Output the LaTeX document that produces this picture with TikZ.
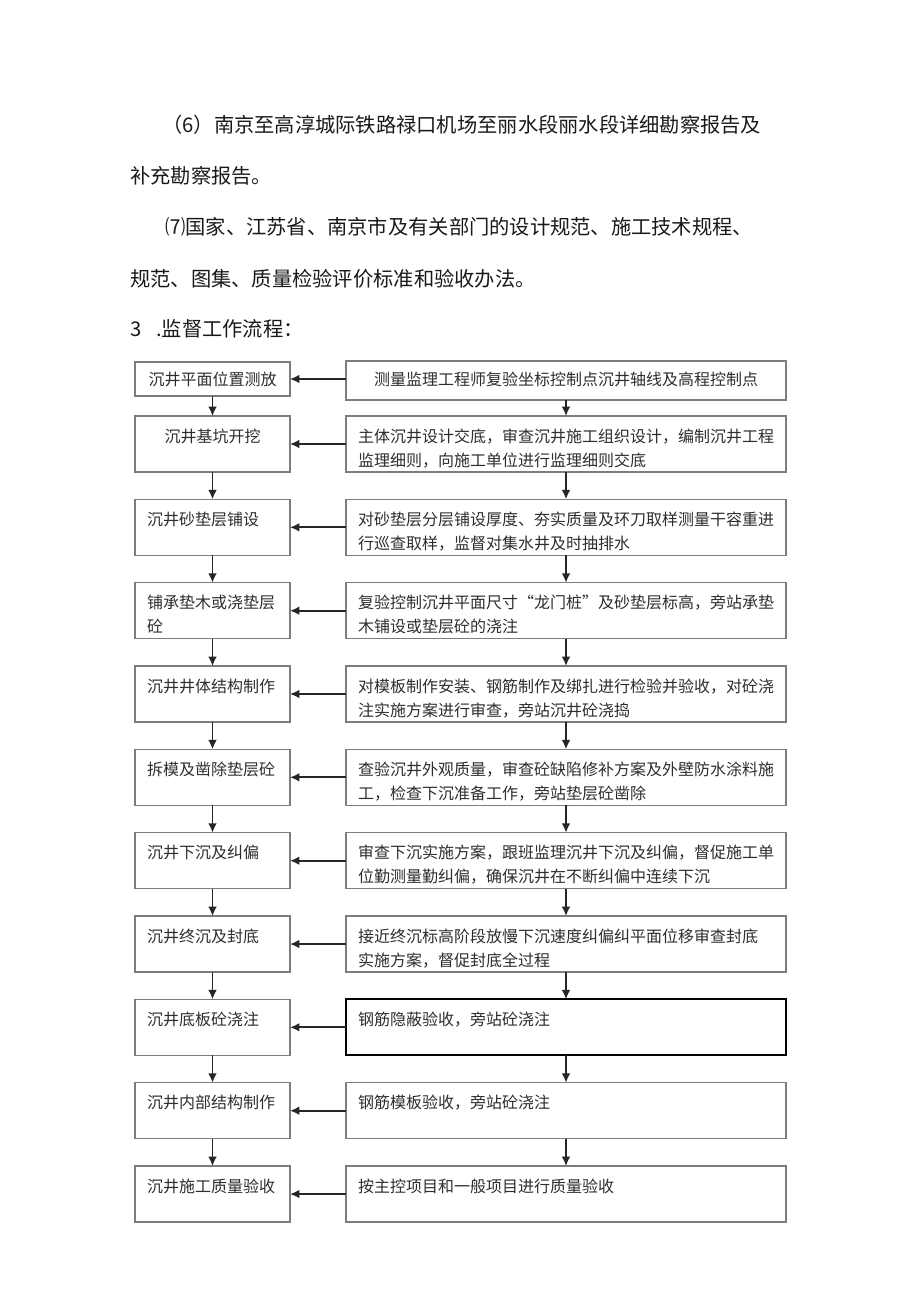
\documentclass[tikz,border=0pt]{standalone}
\usepackage{fontspec}
\setmainfont{Noto Sans CJK SC}
\usetikzlibrary{arrows.meta}
\setlength{\parindent}{0pt}
\definecolor{boxgray}{RGB}{125,125,125}
\definecolor{inkgray}{RGB}{45,45,45}
\tikzstyle{para} = [anchor=base west, inner sep=0, font=\fontsize{15.2}{18}\selectfont, text=black!90]
\tikzstyle{leftbox} = [draw=boxgray, line width=0.9pt, anchor=north west, outer sep=0, inner xsep=9pt, inner ysep=0,
                       text width=98.25pt, align=left, text height=19.5pt, text depth=22.5pt,
                       font=\fontsize{12}{18}\selectfont, text=inkgray]
\tikzstyle{rightbox} = [leftbox, text width=312pt]
\tikzstyle{flow} = [draw=black!85, line width=1.3pt, -{Latex[length=7pt,width=6.5pt]}]

\begin{document}
\begin{tikzpicture}[x=0.75pt, y=-0.75pt]
\useasboundingbox (0, 0) rectangle (920, 1301);

% lines of text above the chart
\node (ItemSix) [para] at (162, 133) {（6）南京至高淳城际铁路禄口机场至丽水段丽水段详细勘察报告及};
\node (ItemSixEnd) [para] at (130, 184) {补充勘察报告。};
\node (ItemSeven) [para] at (165, 235) {⑺国家、江苏省、南京市及有关部门的设计规范、施工技术规程、};
\node (ItemSevenEnd) [para] at (130, 287) {规范、图集、质量检验评价标准和验收办法。};
\node (Heading) [para] at (130, 337) {3\hspace{0.5em} .监督工作流程：};

% work steps
\node (Setout) [leftbox, align=center, text height=18pt, text depth=7.5pt] at (135, 362) {沉井平面位置测放};
\node (Pit) [leftbox, align=center] at (135, 416) {沉井基坑开挖};
\node (Cushion) [leftbox] at (135, 499.3) {沉井砂垫层铺设};
\node (Sleeper) [leftbox] at (135, 582.7) {铺承垫木或浇垫层\\砼};
\node (Body) [leftbox] at (135, 666) {沉井井体结构制作};
\node (Strip) [leftbox] at (135, 749.3) {拆模及凿除垫层砼};
\node (Sink) [leftbox] at (135, 832.7) {沉井下沉及纠偏};
\node (Seal) [leftbox] at (135, 916) {沉井终沉及封底};
\node (Slab) [leftbox] at (135, 999.3) {沉井底板砼浇注};
\node (Inner) [leftbox] at (135, 1082.7) {沉井内部结构制作};
\node (Accept) [leftbox] at (135, 1166) {沉井施工质量验收};

% supervision tasks
\node (Survey) [rightbox, align=center, text height=18.75pt, text depth=10.5pt] at (346, 361) {测量监理工程师复验坐标控制点沉井轴线及高程控制点};
\node (Brief) [rightbox] at (346, 416) {主体沉井设计交底，审查沉井施工组织设计，编制沉井工程\\监理细则，向施工单位进行监理细则交底};
\node (CushionCheck) [rightbox] at (346, 499.3) {对砂垫层分层铺设厚度、夯实质量及环刀取样测量干容重进\\行巡查取样，监督对集水井及时抽排水};
\node (SleeperCheck) [rightbox] at (346, 582.7) {复验控制沉井平面尺寸“龙门桩”及砂垫层标高，旁站承垫\\木铺设或垫层砼的浇注};
\node (BodyCheck) [rightbox] at (346, 666) {对模板制作安装、钢筋制作及绑扎进行检验并验收，对砼浇\\注实施方案进行审查，旁站沉井砼浇捣};
\node (StripCheck) [rightbox] at (346, 749.3) {查验沉井外观质量，审查砼缺陷修补方案及外壁防水涂料施\\工，检查下沉准备工作，旁站垫层砼凿除};
\node (SinkCheck) [rightbox] at (346, 832.7) {审查下沉实施方案，跟班监理沉井下沉及纠偏，督促施工单\\位勤测量勤纠偏，确保沉井在不断纠偏中连续下沉};
\node (SealCheck) [rightbox] at (346, 916) {接近终沉标高阶段放慢下沉速度纠偏纠平面位移审查封底\\实施方案，督促封底全过程};
\node (SlabCheck) [rightbox, draw=black, line width=1.4pt] at (346, 999.3) {钢筋隐蔽验收，旁站砼浇注};
\node (InnerCheck) [rightbox] at (346, 1082.7) {钢筋模板验收，旁站砼浇注};
\node (AcceptCheck) [rightbox] at (346, 1166) {按主控项目和一般项目进行质量验收};

% arrows down the left column
\draw [flow] (Setout) -- (Pit);
\draw [flow] (Pit) -- (Cushion);
\draw [flow] (Cushion) -- (Sleeper);
\draw [flow] (Sleeper) -- (Body);
\draw [flow] (Body) -- (Strip);
\draw [flow] (Strip) -- (Sink);
\draw [flow] (Sink) -- (Seal);
\draw [flow] (Seal) -- (Slab);
\draw [flow] (Slab) -- (Inner);
\draw [flow] (Inner) -- (Accept);

% arrows down the right column
\draw [flow] (Survey) -- (Brief);
\draw [flow] (Brief) -- (CushionCheck);
\draw [flow] (CushionCheck) -- (SleeperCheck);
\draw [flow] (SleeperCheck) -- (BodyCheck);
\draw [flow] (BodyCheck) -- (StripCheck);
\draw [flow] (StripCheck) -- (SinkCheck);
\draw [flow] (SinkCheck) -- (SealCheck);
\draw [flow] (SealCheck) -- (SlabCheck);
\draw [flow] (SlabCheck) -- (InnerCheck);
\draw [flow] (InnerCheck) -- (AcceptCheck);

% arrows from right to left
\draw [flow] (Survey.west |- Setout.east) -- (Setout.east);
\draw [flow] (Brief.west) -- (Pit.east);
\draw [flow] (CushionCheck.west) -- (Cushion.east);
\draw [flow] (SleeperCheck.west) -- (Sleeper.east);
\draw [flow] (BodyCheck.west) -- (Body.east);
\draw [flow] (StripCheck.west) -- (Strip.east);
\draw [flow] (SinkCheck.west) -- (Sink.east);
\draw [flow] (SealCheck.west) -- (Seal.east);
\draw [flow] (SlabCheck.west) -- (Slab.east);
\draw [flow] (InnerCheck.west) -- (Inner.east);
\draw [flow] (AcceptCheck.west) -- (Accept.east);
\end{tikzpicture}
\end{document}
